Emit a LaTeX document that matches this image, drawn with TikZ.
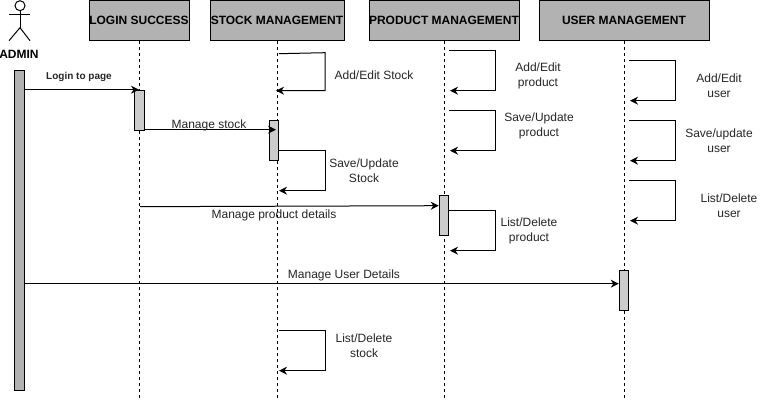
\documentclass[tikz,border=0pt]{standalone}
\usepackage{fontspec}
\setmainfont{Liberation Sans}
\usetikzlibrary{arrows.meta}
\tikzset{
  x=1pt,y=-1pt,
  head/.style={draw=black,fill=black!30,line width=1pt,anchor=center,inner sep=0pt,font=\bfseries\fontsize{12}{14}\selectfont},
  bar/.style={draw=black,fill=black!20,line width=1pt,inner sep=0pt,minimum width=9.5pt},
  adminbar/.style={bar,fill=black!30},
  life/.style={line width=1pt,dash pattern=on 3pt off 3pt},
  msg/.style={line width=1pt,-{Stealth[length=8pt,width=8pt,inset=2.5pt]}},
  lbl/.style={font=\fontsize{12}{15}\selectfont,align=center,inner sep=0pt,text=black!85},
}
\begin{document}
\begin{tikzpicture}
\useasboundingbox (0,0) rectangle (760,401);
\fill[white] (0,0) rectangle (760,401);
\begin{scope}[yshift=-0.7pt]
% headers
\node[head,minimum width=100pt,minimum height=40pt] (login) at (139,20) {LOGIN SUCCESS};
\node[head,minimum width=134pt,minimum height=40pt] (stock) at (277,20) {STOCK MANAGEMENT};
\node[head,minimum width=150pt,minimum height=40pt] (product) at (444,20) {PRODUCT MANAGEMENT};
\node[head,minimum width=170pt,minimum height=40pt] (user) at (624,20) {USER MANAGEMENT};
% lifelines
\coordinate (loginend) at (139,400);
\coordinate (stockend) at (277,400);
\coordinate (productend) at (444,400);
\coordinate (userend) at (624,400);
\draw[life] (login.south) -- (loginend);
\draw[life] (stock.south) -- (stockend);
\draw[life] (product.south) -- (productend);
\draw[life] (user.south) -- (userend);
% actor
\node[draw=black,circle,line width=1pt,minimum size=10pt,inner sep=0pt] (ahead) at (20,5) {};
\coordinate (ahip) at (20,27);
\coordinate (aarmL) at (9,14);
\coordinate (aarmR) at (30,14);
\coordinate (alegL) at (9,40);
\coordinate (alegR) at (30,40);
\draw[line width=1pt] (ahead.south) -- (ahip);
\draw[line width=1pt] (aarmL) -- (aarmR);
\draw[line width=1pt] (alegL) -- (ahip) -- (alegR);
\node[font=\bfseries\fontsize{12}{14}\selectfont,inner sep=0pt] (adminlabel) at (19,53.5) {ADMIN};
% activations
\node[adminbar,minimum height=320pt] (abar) at (19.5,230) {};
\node[bar,minimum height=40pt] (lbar) at (139.5,110) {};
\node[bar,minimum height=40pt] (sbar) at (274,140) {};
\node[bar,minimum height=40pt] (pbar) at (444,215) {};
\node[bar,minimum height=40pt] (ubar) at (624,290) {};
% messages
\coordinate (m1s) at (abar.east |- 0,89);
\coordinate (m1e) at (139,89);
\draw[msg] (m1s) -- (m1e);
\node[font=\bfseries\fontsize{10}{12}\selectfont,inner sep=0pt,text=black!85] (m1l) at (79,76) {Login to page};
\coordinate (m2s) at (lbar.east |- 0,129);
\coordinate (m2e) at (276,129);
\draw[msg] (m2s) -- (m2e);
\node[lbl] (m2l) at (209,125) {Manage stock};
\coordinate (m3s) at (140,206);
\coordinate (m3e) at (pbar.west |- 0,205);
\draw[msg] (m3s) -- (m3e);
\node[lbl] (m3l) at (274,215) {Manage product details};
\coordinate (m4s) at (abar.east |- 0,283);
\coordinate (m4e) at (ubar.west |- 0,283);
\draw[msg] (m4s) -- (m4e);
\node[lbl] (m4l) at (344,274.5) {Manage User Details};
% self loops: stock
\coordinate (a1) at (279,53); \coordinate (a2) at (325,52); \coordinate (a3) at (325,90); \coordinate (a4) at (276,90);
\draw[msg] (a1) -- (a2) -- (a3) -- (a4);
\node[lbl] (al) at (374,75) {Add/Edit Stock};
\coordinate (b2) at (325,150); \coordinate (b3) at (325,190); \coordinate (b4) at (279,190);
\draw[msg] (sbar.east |- 0,150) -- (b2) -- (b3) -- (b4);
\node[lbl] (bl) at (364,170) {Save/Update\\Stock};
\coordinate (c1) at (279,330); \coordinate (c2) at (325,330); \coordinate (c3) at (325,370); \coordinate (c4) at (279,370);
\draw[msg] (c1) -- (c2) -- (c3) -- (c4);
\node[lbl] (cl) at (364,345.5) {List/Delete\\stock};
% self loops: product
\coordinate (d1) at (449,50); \coordinate (d2) at (495,50); \coordinate (d3) at (495,90); \coordinate (d4) at (450,90);
\draw[msg] (d1) -- (d2) -- (d3) -- (d4);
\node[lbl] (dl) at (538,75) {Add/Edit\\product};
\coordinate (e1) at (449,110); \coordinate (e2) at (495,110); \coordinate (e3) at (495,150); \coordinate (e4) at (450,150);
\draw[msg] (e1) -- (e2) -- (e3) -- (e4);
\node[lbl] (el) at (539,125) {Save/Update\\product};
\coordinate (f2) at (495,210); \coordinate (f3) at (495,250); \coordinate (f4) at (450,250);
\draw[msg] (pbar.east |- 0,210) -- (f2) -- (f3) -- (f4);
\node[lbl] (fl) at (529,230) {List/Delete\\product};
% self loops: user
\coordinate (g1) at (629,60); \coordinate (g2) at (675,60); \coordinate (g3) at (675,100); \coordinate (g4) at (630,100);
\draw[msg] (g1) -- (g2) -- (g3) -- (g4);
\node[lbl] (gl) at (719,85) {Add/Edit\\user};
\coordinate (h1) at (629,120); \coordinate (h2) at (675,120); \coordinate (h3) at (675,160); \coordinate (h4) at (630,160);
\draw[msg] (h1) -- (h2) -- (h3) -- (h4);
\node[lbl] (hl) at (719,140) {Save/update\\user};
\coordinate (i1) at (629,180); \coordinate (i2) at (675,180); \coordinate (i3) at (675,220); \coordinate (i4) at (630,220);
\draw[msg] (i1) -- (i2) -- (i3) -- (i4);
\node[lbl] (il) at (729,205) {List/Delete\\user};
\end{scope}
\end{tikzpicture}
\end{document}
